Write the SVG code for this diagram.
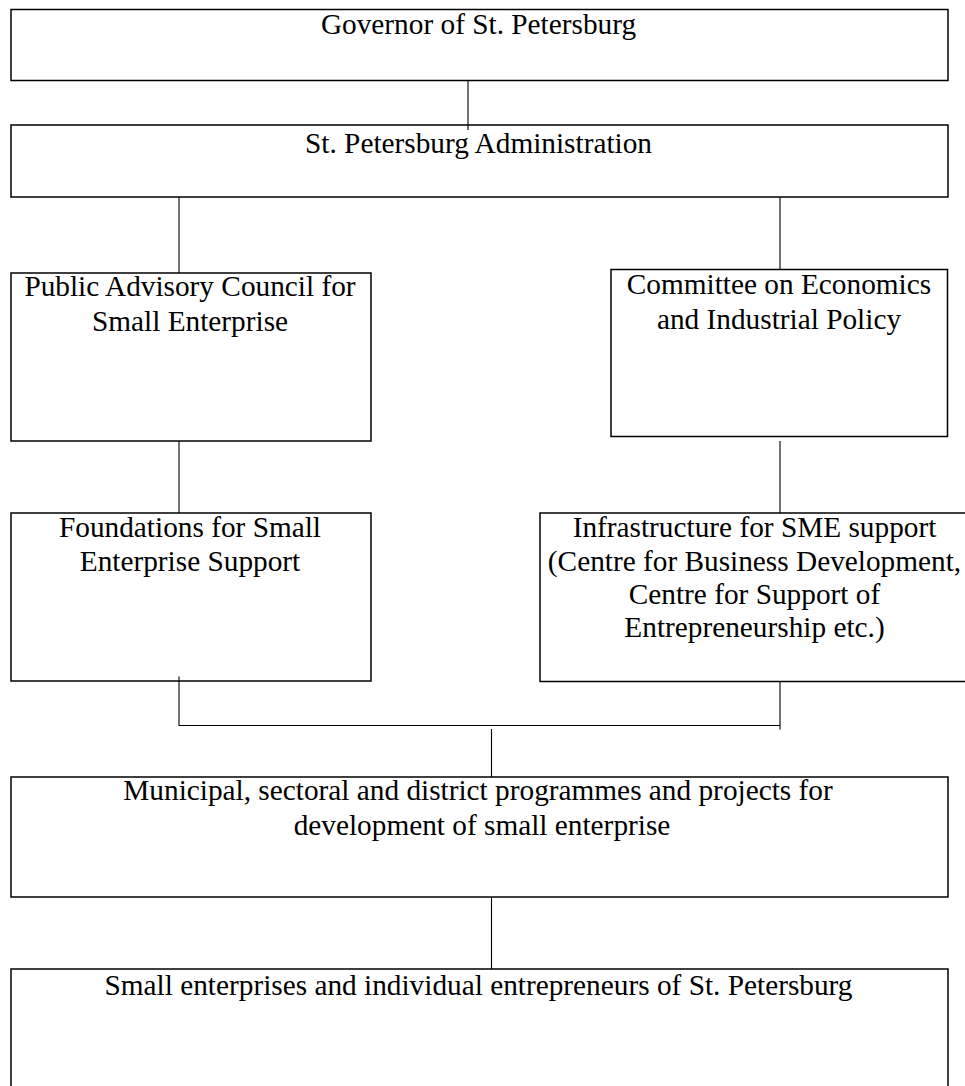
<svg xmlns="http://www.w3.org/2000/svg" width="965" height="1086" viewBox="0 0 965 1086">
<style>
.box{fill:none;stroke:#000000;stroke-width:1.5}
.t{font-family:"Liberation Serif","Times New Roman",serif;font-size:29.3px;fill:#000000;text-anchor:middle}
.c{stroke:#000000;stroke-width:1.1;fill:none}
</style>
<rect width="965" height="1086" fill="#ffffff"/>
<g id="connectors">
<line class="c" x1="468" y1="80.7" x2="468" y2="130"/>
<line class="c" x1="179" y1="197" x2="179" y2="273"/>
<line class="c" x1="780" y1="197" x2="780" y2="269.5"/>
<line class="c" x1="179" y1="441" x2="179" y2="513"/>
<line class="c" x1="780" y1="441" x2="780" y2="513"/>
<polyline class="c" points="179,676.5 179,725.5 780,725.5"/>
<line class="c" x1="780" y1="681.5" x2="780" y2="729.5"/>
<line class="c" x1="491.5" y1="729" x2="491.5" y2="777"/>
<line class="c" x1="491.5" y1="897" x2="491.5" y2="969"/>
</g>
<g id="governor">
<rect class="box" x="11" y="9.5" width="937" height="71"/>
<text class="t" x="478.5" y="33.5">Governor of St. Petersburg</text>
</g>
<g id="administration">
<rect class="box" x="11" y="125" width="937" height="72"/>
<text class="t" x="478.5" y="153">St. Petersburg Administration</text>
</g>
<g id="advisory-council">
<rect class="box" x="11" y="273" width="360" height="168"/>
<text class="t" x="190" y="296">Public Advisory Council for</text>
<text class="t" x="190" y="331">Small Enterprise</text>
</g>
<g id="committee">
<rect class="box" x="611" y="269.5" width="336.5" height="167"/>
<text class="t" x="779" y="294">Committee on Economics</text>
<text class="t" x="779" y="328.5">and Industrial Policy</text>
</g>
<g id="foundations">
<rect class="box" x="11" y="513" width="360" height="168"/>
<text class="t" x="190" y="536.5">Foundations for Small</text>
<text class="t" x="190" y="571">Enterprise Support</text>
</g>
<g id="infrastructure">
<rect class="box" x="540" y="513" width="430" height="168.5"/>
<text class="t" x="754.5" y="537">Infrastructure for SME support</text>
<text class="t" x="754.5" y="570.5">(Centre for Business Development,</text>
<text class="t" x="754.5" y="603.5">Centre for Support of</text>
<text class="t" x="754.5" y="636.5">Entrepreneurship etc.)</text>
</g>
<g id="programmes">
<rect class="box" x="11" y="777" width="937" height="120"/>
<text class="t" x="478" y="800">Municipal, sectoral and district programmes and projects for</text>
<text class="t" x="482" y="835">development of small enterprise</text>
</g>
<g id="small-enterprises">
<rect class="box" x="11" y="969" width="937" height="130"/>
<text class="t" x="478.5" y="995">Small enterprises and individual entrepreneurs of St. Petersburg</text>
</g>
</svg>
